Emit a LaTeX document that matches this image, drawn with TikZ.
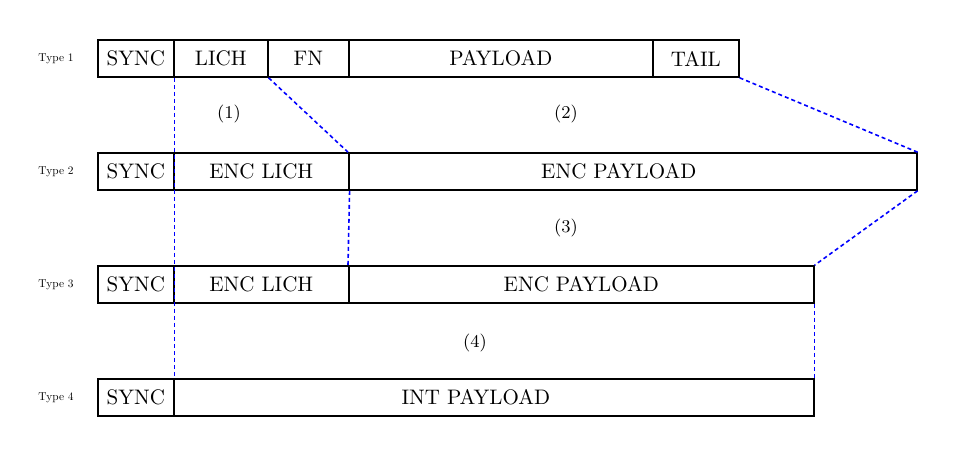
\documentclass[tikz,border=0pt]{standalone}
\usetikzlibrary{positioning}
\tikzset{
  field/.style={draw, thick, minimum height=18.5pt, inner sep=0pt, anchor=west, font=\fontsize{10.5}{12}\selectfont},
  typelab/.style={scale=0.57, transform shape},
  steplab/.style={font=\small},
  link/.style={blue, thick, dash pattern=on 2pt off 1.5pt}
}
\begin{document}
\begin{tikzpicture}[x=0.5pt, y=-0.5pt]
    \useasboundingbox (0,0) rectangle (955,456);
    % Type 1 frame
    \node[typelab] (t1) at (56,58.5) {Type 1};
    \node[field, minimum width=38pt] (sync1) at (97,58.5) {SYNC};
    \node[field, minimum width=47pt] (lich1) at (173,58.5) {LICH};
    \node[field, minimum width=40.5pt] (fn1) at (267,58.5) {FN};
    \node[field, minimum width=152pt] (pay1) at (348,58.5) {PAYLOAD};
    \node[field, minimum width=43pt] (tail1) at (652,58.5) {TAIL};
    % Type 2 frame
    \node[typelab] (t2) at (56,171.5) {Type 2};
    \node[field, minimum width=38pt] (sync2) at (97,171.5) {SYNC};
    \node[field, minimum width=87.5pt] (lich2) at (173,171.5) {ENC LICH};
    \node[field, minimum width=284pt, label={[xshift=-7pt, font=\fontsize{10.5}{12}\selectfont]center:ENC PAYLOAD}] (pay2) at (348,171.5) {};
    % Type 3 frame
    \node[typelab] (t3) at (56,284.5) {Type 3};
    \node[field, minimum width=38pt] (sync3) at (97,284.5) {SYNC};
    \node[field, minimum width=87.5pt] (lich3) at (173,284.5) {ENC LICH};
    \node[field, minimum width=232.5pt] (pay3) at (348,284.5) {ENC PAYLOAD};
    % Type 4 frame
    \node[typelab] (t4) at (56,397.5) {Type 4};
    \node[field, minimum width=38pt] (sync4) at (97,397.5) {SYNC};
    \node[field, minimum width=320pt, label={[xshift=-9pt, font=\fontsize{10.5}{12}\selectfont]center:INT PAYLOAD}] (pay4) at (173,397.5) {};

    % Processing steps
    \node[steplab] (s1) at (229,114) {(1)};
    \node[steplab] (s2) at (566,114) {(2)};
    \node[steplab] (s3) at (566,228) {(3)};
    \node[steplab] (s4) at (475,343) {(4)};

    % Dashed field boundaries
    \draw[link] (sync1.south east) -- (sync4.north east);
    \draw[link] (lich1.south east) -- (pay2.north west);
    \draw[link] (tail1.south east) -- (pay2.north east);
    \draw[link] (lich2.south east) -- (pay3.north west);
    \draw[link] (pay2.south east) -- (pay3.north east);
    \draw[link] (pay3.south east) -- (pay4.north east);
\end{tikzpicture}
\end{document}
